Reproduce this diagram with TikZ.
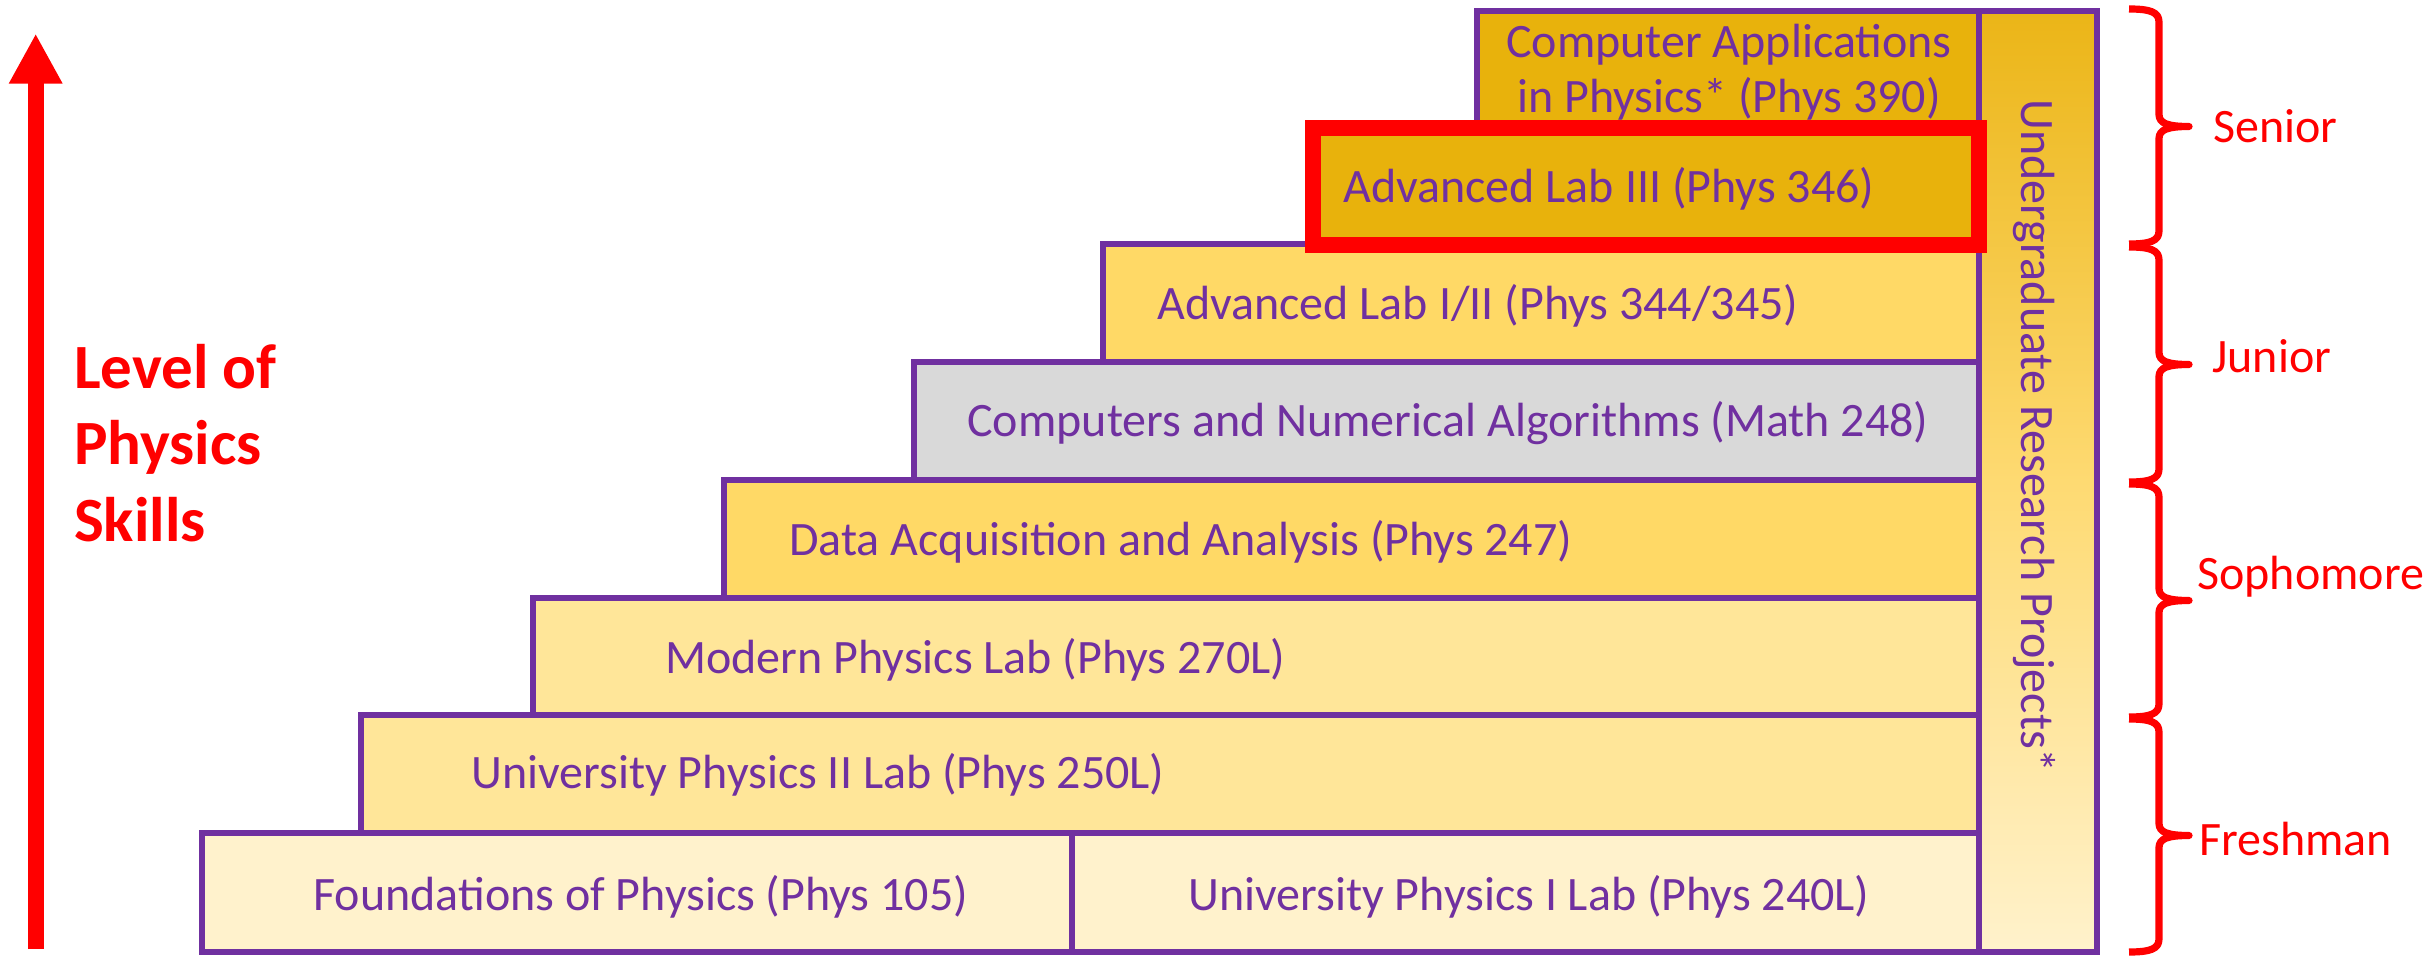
\documentclass[tikz,border=0pt]{standalone}
\usepackage{fontspec}
\setmainfont{Carlito}
\usetikzlibrary{arrows.meta}
\definecolor{ppurple}{HTML}{7030A0}
\definecolor{pred}{HTML}{FF0000}
\definecolor{golddark}{HTML}{E8B20C}
\definecolor{goldmid}{HTML}{FFD966}
\definecolor{goldlight}{HTML}{FFE699}
\definecolor{goldpale}{HTML}{FFF2CC}
\definecolor{greybox}{HTML}{D9D9D9}
\definecolor{coltop}{HTML}{EBB517}
\definecolor{colmid}{HTML}{FEDA72}
\newcommand{\ybrace}[2]{%
  \pgfmathsetmacro{\ymid}{(#1+#2)/2}%
  \draw[bracestyle] (2129,#1) .. controls (2150,#1) and (2159,#1+3) .. (2159,#1+13)
    -- (2159,\ymid-12) .. controls (2159,\ymid-3) and (2168,\ymid) .. (2189,\ymid)
    .. controls (2168,\ymid) and (2159,\ymid+3) .. (2159,\ymid+12)
    -- (2159,#2-13) .. controls (2159,#2-3) and (2150,#2) .. (2129,#2);
}
\begin{document}
\begin{tikzpicture}[x=0.5pt,y=-0.5pt,
  box/.style={draw=ppurple, line width=2.7pt},
  lbl/.style={font=\fontsize{24}{28}\selectfont, text=ppurple, inner sep=0pt, anchor=base west},
  yearlbl/.style={font=\fontsize{24}{28}\selectfont, text=pred, inner sep=0pt, anchor=base west},
  bracestyle/.style={draw=pred, line width=3.6pt, line join=round},
  skillarrow/.style={draw=pred, line width=8pt, -{Triangle[width=25pt,length=25pt]}}
]
\useasboundingbox (0,0) rectangle (2427,957);

% research column
\path[box, top color=coltop, bottom color=goldpale, middle color=colmid] (1979,11) rectangle (2097,952);

% steps
\path[box, fill=goldpale] (202,833) rectangle (1072,952);
\path[box, fill=goldpale] (1072,833) rectangle (1979,952);
\path[box, fill=goldlight] (361,715) rectangle (1979,833);
\path[box, fill=goldlight] (533,598) rectangle (1979,715);
\path[box, fill=goldmid] (724,480) rectangle (1979,598);
\path[box, fill=greybox] (914,362) rectangle (1979,480);
\path[box, fill=goldmid] (1103,244) rectangle (1979,362);
\path[box, fill=golddark] (1477,11) rectangle (1979,128);
\path[draw=pred, line width=8pt, fill=golddark] (1313,128) rectangle (1979,245);

% texts
\node[lbl] (found) at (313,910) {Foundations of Physics (Phys 105)};
\node[lbl] (up1) at (1188,910) {University Physics I Lab (Phys 240L)};
\node[lbl] (up2) at (471,788) {University Physics II Lab (Phys 250L)};
\node[lbl] (modern) at (665,673) {Modern Physics Lab (Phys 270L)};
\node[lbl] (daq) at (789,555) {Data Acquisition and Analysis (Phys 247)};
\node[lbl] (cna) at (967,437) {Computers and Numerical Algorithms (Math 248)};
\node[lbl] (adv12) at (1157,320) {Advanced Lab I/II (Phys 344/345)};
\node[lbl] (adv3) at (1343,203) {Advanced Lab III (Phys 346)};
\node[lbl, anchor=base] (capp) at (1729,58) {\parbox[t]{260pt}{\centering\fontsize{24}{27.5}\selectfont Computer Applications\\in Physics* (Phys 390)}};
\node[lbl, anchor=base, rotate=-90] (urp) at (2021,436) {Undergraduate Research Projects*};

% braces and year labels
\ybrace{9}{244}
\ybrace{247}{482}
\ybrace{484}{717}
\ybrace{719}{952}
\node[yearlbl] (senior) at (2213,143) {Senior};
\node[yearlbl] (junior) at (2212,372) {Junior};
\node[yearlbl] (soph) at (2197,589) {Sophomore};
\node[yearlbl] (fresh) at (2199,855) {Freshman};

% skill arrow
\coordinate (abot) at (35.7,949);
\coordinate (atop) at (35.7,33.6);
\draw[skillarrow] (abot) -- (atop);
\node[anchor=base west, inner sep=0pt, text=pred, font=\bfseries] (skills) at (73.7,388)
  {\parbox[t]{170pt}{\fontsize{31.5}{38.5}\selectfont\bfseries Level of\\Physics\\Skills}};
\end{tikzpicture}
\end{document}
